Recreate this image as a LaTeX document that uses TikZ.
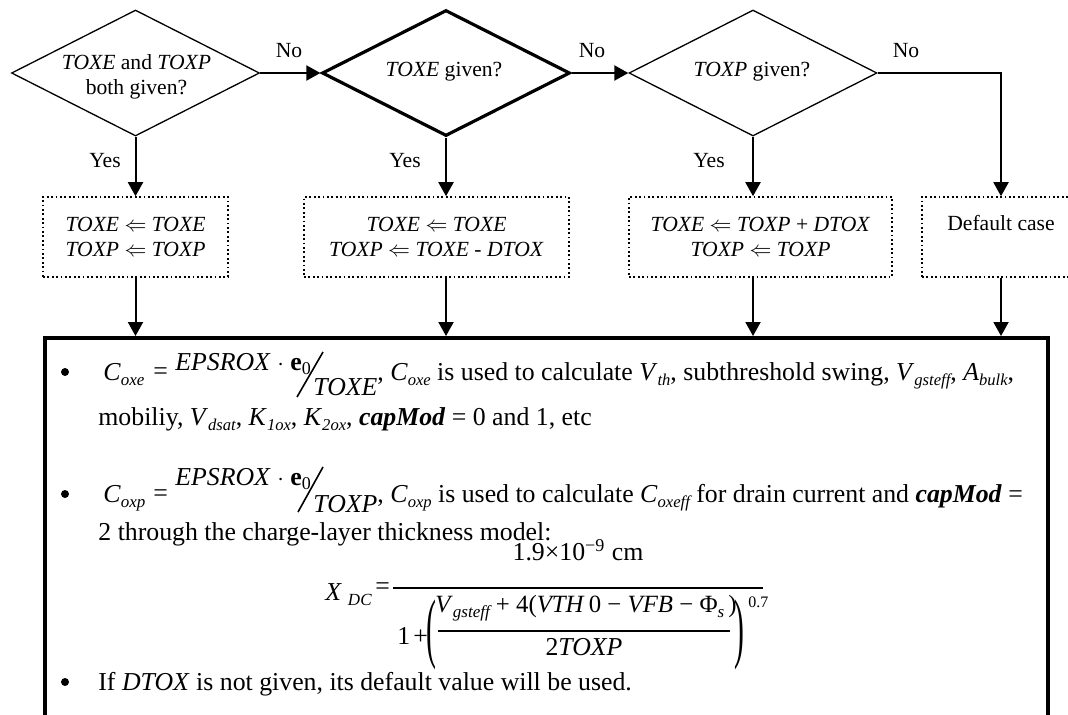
\documentclass[tikz,border=0pt]{standalone}
\usepackage{fontspec}
\usepackage{graphicx}
\setmainfont{Liberation Serif}
\usetikzlibrary{shapes.geometric,arrows.meta}
\newcommand\lblf{\fontsize{10.8}{12.5}\selectfont}
\newcommand\bodyf{\fontsize{12.9}{15}\selectfont}
\newcommand\sbx[1]{\raisebox{-0.45ex}{\fontsize{8.3}{8.3}\selectfont\itshape #1}}
\newcommand\eqsub[1]{\raisebox{-0.5ex}{\fontsize{8.5}{8.5}\selectfont\itshape #1}}
\newcommand\eqsubr[1]{\raisebox{-0.4ex}{\fontsize{9}{9}\selectfont #1}}
\begin{document}
\begin{tikzpicture}[x=0.5pt,y=-0.5pt,
  dia/.style={draw, shape=diamond, minimum width=124pt, minimum height=63pt, inner sep=0pt, line width=0.65pt},
  diathick/.style={dia, line width=1.6pt},
  dbox/.style={draw, dash pattern=on 0.9pt off 1.3pt, line width=0.8pt, inner sep=0pt, align=center, font=\lblf, minimum height=40pt},
  lbl/.style={font=\lblf, inner sep=0pt, align=center},
  body/.style={font=\bodyf, inner sep=0pt, anchor=base west},
  conn/.style={line width=1pt, -{Triangle[length=7pt,width=7.5pt]}},
  bul/.style={circle, fill, inner sep=0pt, minimum size=4pt},
]
\useasboundingbox (0,0) rectangle (1068,714);
\clip (0,0) rectangle (1068,714);

% decisions
\node[dia] (d1) at (135.5,73) {};
\node[diathick] (d2) at (446,73) {};
\node[dia] (d3) at (753,73) {};
\node[lbl] (t1) at (136.5,76.5) {\textit{TOXE} and \textit{TOXP}\\both given?};
\node[lbl] (t2) at (444,72) {\textit{TOXE} given?};
\node[lbl] (t3) at (752,72) {\textit{TOXP} given?};

% boxes
\node[dbox, minimum width=92.5pt] (b1) at (135.5,237) {\textit{TOXE} $\Leftarrow$ \textit{TOXE}\\\textit{TOXP} $\Leftarrow$ \textit{TOXP}};
\node[dbox, minimum width=132.5pt] (b2) at (436.5,237) {\textit{TOXE} $\Leftarrow$ \textit{TOXE}\\\textit{TOXP} $\Leftarrow$ \textit{TOXE - DTOX}};
\node[dbox, minimum width=131.5pt] (b3) at (760.5,237) {\textit{TOXE} $\Leftarrow$ \textit{TOXP} + \textit{DTOX}\\\textit{TOXP} $\Leftarrow$ \textit{TOXP}};
\node[dbox, minimum width=99pt] (b4) at (1021,237) {};
\node[lbl] (dc) at (1001,223) {Default case};

% labels
\node[lbl] (no1) at (289,51) {No};
\node[lbl] (no2) at (592,51) {No};
\node[lbl] (no3) at (906,51) {No};
\node[lbl] (yes1) at (105,161) {Yes};
\node[lbl] (yes2) at (405,161) {Yes};
\node[lbl] (yes3) at (709,161) {Yes};

% big box
\node[draw, line width=2pt, anchor=north west, minimum width=501.5pt, minimum height=250pt, inner sep=0pt] (big) at (43,336) {};

% connectors
\draw[conn] (d1.east) -- (d2.west);
\draw[conn] (d2.east) -- (d3.west);
\draw[conn] (d3.east) -| (dc.north |- b4.north);
\draw[conn] (d1.south) -- (b1.north);
\draw[conn] (d2.south) -- (d2.south |- b2.north);
\draw[conn] (d3.south) -- (d3.south |- b3.north);
\draw[conn] (b1.south) -- (b1.south |- big.north);
\draw[conn] (d2.south |- b2.south) -- (d2.south |- big.north);
\draw[conn] (d3.south |- b3.south) -- (d3.south |- big.north);
\draw[conn] (dc.south |- b4.south) -- (dc.south |- big.north);

% bullet 1
\node[bul] (bu1) at (65,372) {};
\node[body] (c1) at (103,380) {\textit{C}\eqsub{oxe}};
\node[body] (e1) at (153,379) {=};
\node[body] (n1) at (175,370) {\textit{EPSROX} $\cdot$ \textbf{e}\eqsubr{0}};
\draw[line width=0.8pt] (297,397) -- (323,352);
\node[body] (dn1) at (313,395) {\textit{TOXE}};
\node[body] (r1) at (377,380) {, \textit{C}\sbx{oxe} is used to calculate \textit{V}\sbx{th}, subthreshold swing, \textit{V}\sbx{gsteff}, \textit{A}\sbx{bulk},};
\node[body] (l2) at (98,425) {mobiliy, \textit{V}\sbx{dsat}, \textit{K}\sbx{1ox}, \textit{K}\sbx{2ox}, \textbf{\textit{capMod}} = 0 and 1, etc};

% bullet 2
\node[bul] (bu2) at (65,494) {};
\node[body] (c2) at (103,502) {\textit{C}\eqsub{oxp}};
\node[body] (e2) at (153,501) {=};
\node[body] (n2) at (175,485) {\textit{EPSROX} $\cdot$ \textbf{e}\eqsubr{0}};
\draw[line width=0.8pt] (298,512) -- (323,467);
\node[body] (dn2) at (313,512) {\textit{TOXP}};
\node[body] (r2) at (377,502) {, \textit{C}\sbx{oxp} is used to calculate \textit{C}\sbx{oxeff} for drain current and \textbf{\textit{capMod}} =};
\node[body] (l4) at (98,540) {2 through the charge-layer thickness model:};

% X_DC formula
\node[body] (xdc) at (325,600) {\textit{X}\hspace{3pt}\eqsub{DC}};
\node[body] (e3) at (375,594.5) {=};
\draw[line width=0.7pt] (393,588) -- (763,588);
\node[font=\bodyf, anchor=base, inner sep=0pt] (num) at (578,560) {1.9×10\textsuperscript{−9} cm};
\node[body] (one) at (397,644) {1\hspace{1.5pt}+};
\node[font=\bodyf, inner sep=0pt] (lp) at (431,635) {\scalebox{1.15}[3.0]{(}};
\node[font=\bodyf, inner sep=0pt] (rp) at (739,635) {\scalebox{1.15}[3.0]{)}};
\node[anchor=base west, font=\fontsize{8}{8}\selectfont, inner sep=0pt] (ex) at (748,607) {0.7};
\node[font=\fontsize{12.4}{14}\selectfont, anchor=base, inner sep=0pt] (inum) at (586,612) {\textit{V}\eqsub{gsteff} + 4(\textit{VTH}\,0 − \textit{VFB} − Φ\eqsub{s}\,)};
\draw[line width=0.7pt] (438,631) -- (730,631);
\node[font=\bodyf, anchor=base, inner sep=0pt] (iden) at (584,655) {2\textit{TOXP}};

% bullet 3
\node[bul] (bu3) at (65,682) {};
\node[body] (l5) at (98,690) {If \textit{DTOX} is not given, its default value will be used.};
\end{tikzpicture}
\end{document}
